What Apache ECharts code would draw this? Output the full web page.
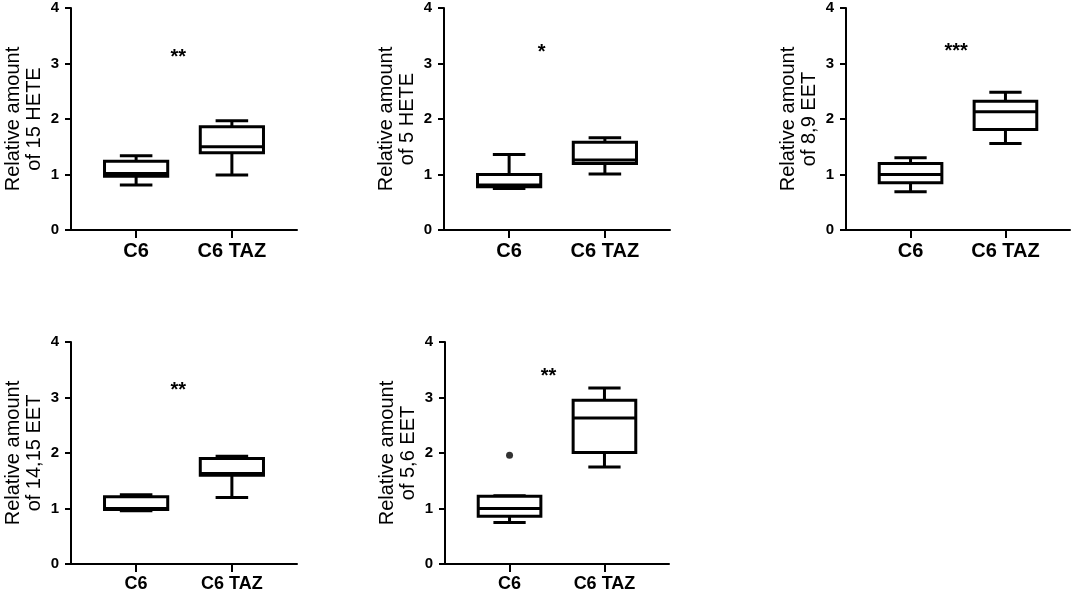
<!DOCTYPE html>
<html><head><meta charset="utf-8">
<script src="https://cdn.jsdelivr.net/npm/echarts@6/dist/echarts.min.js"></script>
<style>html,body{margin:0;padding:0;background:#fff}#c{width:1072px;height:594px}</style>
</head><body><div id="c"></div>
<script>
const categories = ['C6', 'C6 TAZ'];
// each box: [whiskerLow, Q1, median, Q3, whiskerHigh]
const hete15 = [[0.81, 0.97, 1.02, 1.24, 1.34], [0.99, 1.39, 1.50, 1.86, 1.97]];
const hete5 = [[0.75, 0.78, 0.81, 1.00, 1.36], [1.01, 1.20, 1.26, 1.58, 1.66]];
const eet89 = [[0.69, 0.85, 1.00, 1.20, 1.30], [1.56, 1.81, 2.13, 2.32, 2.48]];
const eet1415 = [[0.96, 0.98, 1.00, 1.21, 1.25], [1.20, 1.60, 1.63, 1.90, 1.94]];
const eet56 = [[0.75, 0.86, 1.00, 1.22, 1.23], [1.75, 2.01, 2.63, 2.95, 3.17]];
const eet56Outliers = [[0, 1.96]];
const yTitles = ['Relative amount\nof 15 HETE', 'Relative amount\nof 5 HETE', 'Relative amount\nof 8,9 EET', 'Relative amount\nof 14,15 EET', 'Relative amount\nof 5,6 EET'];
const stars = ['**', '*', '***', '**', '**'];
const starAt = [[0.44, 3.2], [0.34, 3.28], [0.48, 3.31], [0.44, 3.22], [0.41, 3.46]];
const panels = [hete15, hete5, eet89, eet1415, eet56];
const outliers = [[], [], [], [], eet56Outliers];

const grids = [
  {left: 71, top: 8, width: 226, height: 222},
  {left: 444, top: 8, width: 226, height: 222},
  {left: 846, top: 8, width: 224, height: 222},
  {left: 71, top: 342, width: 226, height: 222},
  {left: 445, top: 342, width: 224, height: 222}
];
const FONT = 'Arial, "Liberation Sans", sans-serif';
const LW = 3;

function renderBox(params, api) {
  const x = api.value(0);
  const lo = api.coord([x, api.value(1)]);
  const q1 = api.coord([x, api.value(2)]);
  const md = api.coord([x, api.value(3)]);
  const q3 = api.coord([x, api.value(4)]);
  const hi = api.coord([x, api.value(5)]);
  const unit = api.size([1, 0])[0];
  const bw = unit * 0.33, cw = unit * 0.17;
  const cx = lo[0];
  const st = {stroke: '#000', lineWidth: LW, fill: null};
  const line = (x1, y1, x2, y2) => ({type: 'line', shape: {x1, y1, x2, y2}, style: st});
  return {type: 'group', children: [
    line(cx, q3[1], cx, hi[1]),
    line(cx, q1[1], cx, lo[1]),
    line(cx - cw, hi[1], cx + cw, hi[1]),
    line(cx - cw, lo[1], cx + cw, lo[1]),
    {type: 'rect', shape: {x: cx - bw, y: q3[1], width: 2 * bw, height: q1[1] - q3[1]}, style: {stroke: '#000', lineWidth: LW, fill: '#fff'}},
    line(cx - bw, md[1], cx + bw, md[1])
  ]};
}
function renderStar(params, api) {
  const p = api.coord([api.value(0), api.value(1)]);
  return {type: 'text', x: p[0], y: p[1] + 5, style: {text: stars[api.value(2)], fontSize: 20, fontWeight: 'bold', fontFamily: FONT, align: 'center', verticalAlign: 'middle', fill: '#000'}};
}

const xAxis = [], yAxis = [], series = [];
grids.forEach((g, i) => {
  const bottom = i >= 3;
  xAxis.push({
    type: 'value', gridIndex: i, min: -0.68, max: 1.68,
    axisLine: {show: true, onZero: false, lineStyle: {color: '#000', width: 2}},
    axisTick: {show: true, customValues: [0, 1], length: 8, lineStyle: {color: '#000', width: 2}},
    axisLabel: {customValues: [0, 1], formatter: v => categories[Math.round(v)], color: '#000', fontWeight: 'bold', fontFamily: FONT, fontSize: bottom ? 18 : 20, margin: 11},
    splitLine: {show: false}
  });
  yAxis.push({
    type: 'value', gridIndex: i, min: 0, max: 4, interval: 1,
    name: yTitles[i], nameLocation: 'middle', nameGap: 26,
    nameTextStyle: {fontSize: 20, lineHeight: 21, color: '#000', fontFamily: FONT},
    axisLine: {show: true, onZero: false, lineStyle: {color: '#000', width: 2}},
    axisTick: {show: true, length: 6, lineStyle: {color: '#000', width: 2}},
    axisLabel: {color: '#000', fontWeight: 'bold', fontFamily: FONT, fontSize: 15, margin: 12},
    splitLine: {show: false}
  });
  series.push({
    type: 'custom', xAxisIndex: i, yAxisIndex: i, renderItem: renderBox,
    data: panels[i].map((b, k) => [k, ...b]), silent: true
  });
  series.push({
    type: 'custom', xAxisIndex: i, yAxisIndex: i, renderItem: renderStar,
    data: [[starAt[i][0], starAt[i][1], i]], silent: true
  });
  if (outliers[i].length) {
    series.push({
      type: 'scatter', xAxisIndex: i, yAxisIndex: i, symbol: 'circle', symbolSize: 7,
      itemStyle: {color: '#000'}, data: outliers[i], silent: true
    });
  }
});

const chart = echarts.init(document.getElementById('c'), null, {renderer: 'canvas'});
chart.setOption({backgroundColor: '#fff', animation: false, grid: grids, xAxis, yAxis, series});
</script></body></html>
